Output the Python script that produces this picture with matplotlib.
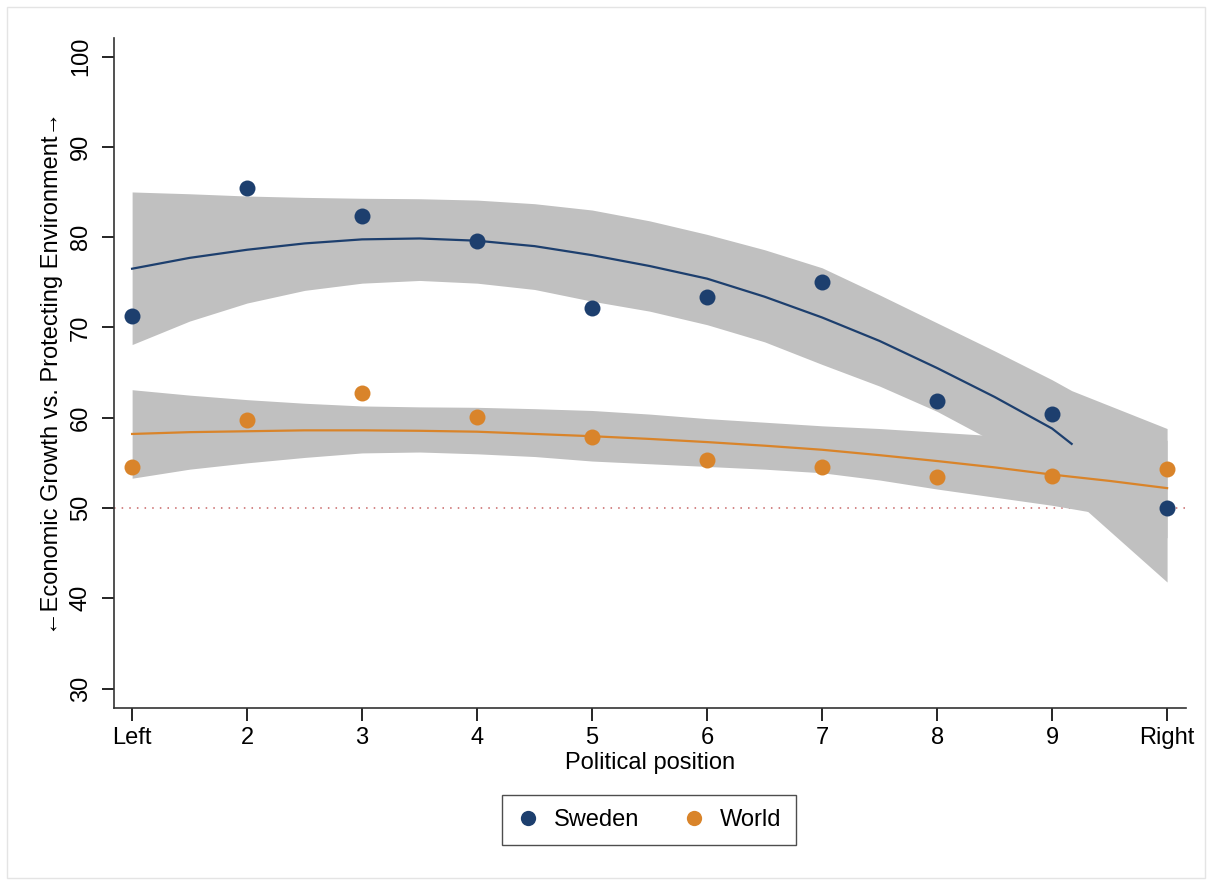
import numpy as np
import matplotlib
matplotlib.use('Agg')
import matplotlib.pyplot as plt
from matplotlib.lines import Line2D
from matplotlib.patches import Rectangle

plt.rcParams['font.family'] = ['Liberation Sans', 'DejaVu Sans']

# observed means per political position
positions = [1, 2, 3, 4, 5, 6, 7, 8, 9, 10]
tick_labels = ['Left', '2', '3', '4', '5', '6', '7', '8', '9', 'Right']
sweden = [71.3, 85.4, 82.3, 79.6, 72.2, 73.4, 75.0, 61.8, 60.4, 50.0]
world = [54.5, 59.8, 62.7, 60.1, 57.9, 55.3, 54.5, 53.4, 53.5, 54.3]

# quadratic fit + 95% CI
swe_fit_x = [1, 1.5, 2, 2.5, 3, 3.5, 4, 4.5, 5, 5.5, 6, 6.5, 7, 7.5, 8, 8.5, 9, 9.17]
swe_fit = [76.5, 77.7, 78.6, 79.3, 79.75, 79.85, 79.6, 79.0, 78.0, 76.8, 75.4, 73.4,
           71.1, 68.5, 65.5, 62.3, 58.8, 57.1]
swe_ci_x = [1, 1.5, 2, 2.5, 3, 3.5, 4, 4.5, 5, 5.5, 6, 6.5, 7, 7.5, 8, 8.5, 9, 9.17, 10]
swe_hi = [85.0, 84.8, 84.55, 84.4, 84.3, 84.25, 84.1, 83.7, 83.0, 81.8, 80.3, 78.6,
          76.6, 73.6, 70.5, 67.4, 64.2, 63.0, 58.8]
swe_lo = [68.1, 70.7, 72.7, 74.1, 74.9, 75.2, 74.9, 74.2, 72.9, 71.8, 70.3, 68.4,
          65.9, 63.5, 60.7, 57.3, 53.4, 51.2, 41.8]

wld_x = [1, 1.5, 2, 2.5, 3, 3.5, 4, 4.5, 5, 5.5, 6, 6.5, 7, 7.5, 8, 8.5, 9, 9.5, 10]
wld_fit = [58.2, 58.4, 58.5, 58.6, 58.6, 58.55, 58.45, 58.2, 57.95, 57.65, 57.3, 56.9,
           56.45, 55.85, 55.2, 54.5, 53.7, 53.0, 52.2]
wld_hi = [63.1, 62.5, 62.0, 61.6, 61.3, 61.2, 61.15, 61.0, 60.8, 60.4, 59.9, 59.5,
          59.1, 58.8, 58.4, 58.0, 57.2, 56.8, 57.5]
wld_lo = [53.3, 54.3, 55.0, 55.6, 56.1, 56.2, 56.0, 55.7, 55.2, 54.9, 54.6, 54.3,
          53.9, 53.1, 52.1, 51.2, 50.3, 49.2, 46.7]

navy = '#1d3f6e'
orange = '#d9842a'
band = '#c0c0c0'

fig = plt.figure(figsize=(12.12, 8.86), dpi=100)
ax = fig.add_axes([0.0941, 0.2009, 0.8845, 0.7562])

ax.axhline(50, color='#c86464', lw=1.1, ls=(0, (1, 4)), zorder=1)

ax.fill_between(swe_ci_x, swe_lo, swe_hi, color=band, lw=0, zorder=2)
ax.fill_between(wld_x, wld_lo, wld_hi, color=band, lw=0, zorder=2)
ax.plot(swe_fit_x, swe_fit, color=navy, lw=1.6, zorder=3)
ax.plot(wld_x, wld_fit, color=orange, lw=1.6, zorder=3)

ax.plot(positions, sweden, 'o', color=navy, ms=11.5, mew=0, zorder=4)
ax.plot(positions, world, 'o', color=orange, ms=11.5, mew=0, zorder=4)

ax.set_xlim(0.843, 10.165)
ax.set_ylim(27.85, 102.05)
ax.set_xticks(positions)
ax.set_xticklabels(tick_labels)
ax.set_yticks([30, 40, 50, 60, 70, 80, 90, 100])
ax.tick_params(axis='y', labelrotation=90, length=9, width=1.2, pad=7, labelsize=17)
ax.tick_params(axis='x', length=9, width=1.2, pad=5, labelsize=17)
for lab in ax.get_yticklabels():
    lab.set_va('center')

for s in ['top', 'right']:
    ax.spines[s].set_visible(False)
for s in ['left', 'bottom']:
    ax.spines[s].set_linewidth(1.2)
    ax.spines[s].set_color('#333333')

ax.set_xlabel('Political position', fontsize=17, labelpad=2)
ax.set_ylabel('\u2190Economic Growth vs. Protecting Environment\u2192', fontsize=17, labelpad=5)

handles = [Line2D([], [], marker='o', ls='none', color=navy, ms=11, mew=0),
           Line2D([], [], marker='o', ls='none', color=orange, ms=11, mew=0)]
leg = fig.legend(handles, ['Sweden', 'World'], loc='center', ncol=2,
                 bbox_to_anchor=(649 / 1212, 1 - 820 / 886), fontsize=17,
                 frameon=True, fancybox=False, edgecolor='#222222',
                 handletextpad=0.6, columnspacing=1.8, borderpad=0.6, handlelength=1.0)
leg.get_frame().set_linewidth(1.0)

fig.patches.append(Rectangle((7 / 1212, 8 / 886), 1198 / 1212, 871 / 886,
                             transform=fig.transFigure, fill=False,
                             edgecolor='#e4e4e4', lw=1))

fig.savefig('out.png', dpi=100)
